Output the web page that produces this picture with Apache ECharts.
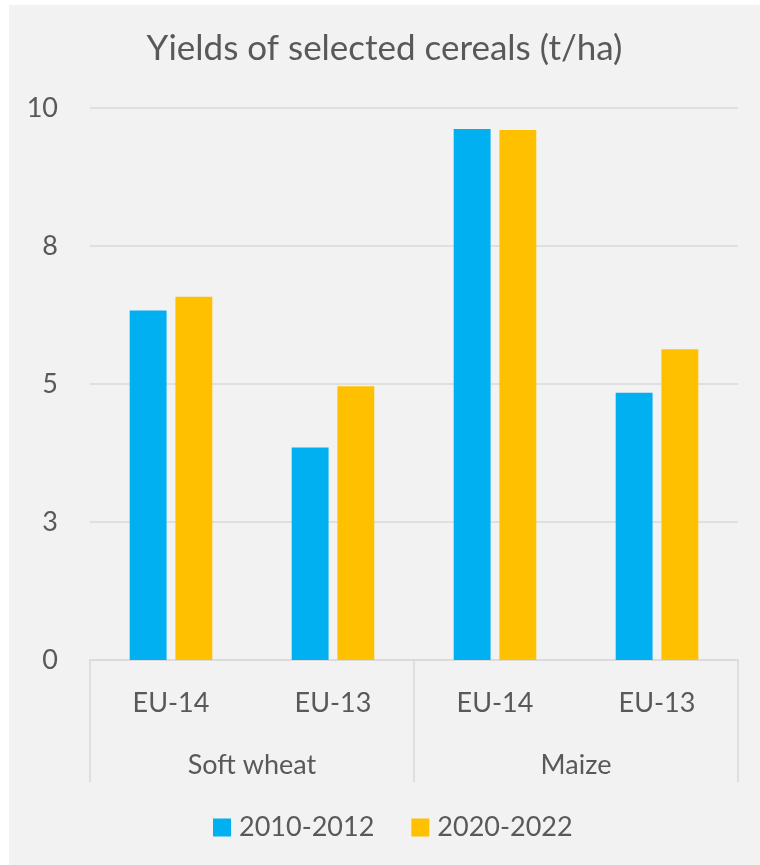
<!DOCTYPE html>
<html>
<head>
<meta charset="utf-8">
<script src="https://cdn.jsdelivr.net/npm/echarts@6/dist/echarts.min.js"></script>
<style>
  html, body { margin: 0; padding: 0; background: #ffffff; }
  #chart { position: absolute; left: 9px; top: 5px; width: 751px; height: 860px; background: #f2f2f2; }
</style>
</head>
<body>
<div id="chart"></div>
<script>
// categories (inner level) and groups (outer level)
var categories = ['EU-14', 'EU-13', 'EU-14', 'EU-13'];
var groups = ['Soft wheat', 'Maize'];
var seriesNames = ['2010-2012', '2020-2022'];

// yields t/ha
var y2010 = [6.33, 3.85, 9.62, 4.84];
var y2020 = [6.58, 4.96, 9.60, 5.63];

var textColor = '#595959';
var lineColor = '#d9d9d9';
var font = 'Lato';

var myChart = echarts.init(document.getElementById('chart'));

var option = {
    backgroundColor: 'transparent',
    color: ['#00b0f0', '#ffc000'],
    textStyle: { fontFamily: font },
    title: {
        text: 'Yields of selected cereals (t/ha)',
        left: 'center',
        top: 21,
        padding: [5, 5, 5, 28],
        textStyle: { fontFamily: font, fontSize: 35, fontWeight: 'normal', color: textColor }
    },
    legend: {
        data: seriesNames,
        left: 199,
        top: 804,
        icon: 'rect',
        itemWidth: 18,
        itemHeight: 18,
        itemGap: 37,
        textStyle: { fontFamily: font, fontSize: 27, color: textColor, padding: [0, 0, 0, 3] }
    },
    grid: {
        left: 81,
        right: 22,
        top: 103,
        bottom: 205
    },
    xAxis: [
        {
            type: 'category',
            data: categories,
            position: 'bottom',
            offset: 0,
            axisLine: { lineStyle: { color: lineColor, width: 1.5 } },
            axisTick: { show: false },
            axisLabel: { fontFamily: font, fontSize: 27, color: textColor, margin: 30 }
        },
        {
            type: 'category',
            data: groups,
            position: 'bottom',
            offset: 0,
            axisLine: { show: false },
            axisTick: { show: true, length: 122, lineStyle: { color: lineColor, width: 1.5 } },
            axisLabel: { fontFamily: font, fontSize: 27, color: textColor, margin: 92 }
        }
    ],
    yAxis: {
        type: 'value',
        min: 0,
        max: 10,
        interval: 2.5,
        axisLine: { show: false },
        axisTick: { show: false },
        splitLine: { lineStyle: { color: lineColor, width: 1.5 } },
        axisLabel: {
            fontFamily: font, fontSize: 27, color: textColor, margin: 32,
            formatter: function (v) { return Math.round(v); }
        }
    },
    series: [
        {
            name: seriesNames[0],
            type: 'bar',
            xAxisIndex: 0,
            data: y2010,
            barGap: '24%',
            barCategoryGap: '49%'
        },
        {
            name: seriesNames[1],
            type: 'bar',
            xAxisIndex: 0,
            data: y2020,
            barGap: '24%',
            barCategoryGap: '49%'
        }
    ]
};

myChart.setOption(option);
</script>
</body>
</html>
